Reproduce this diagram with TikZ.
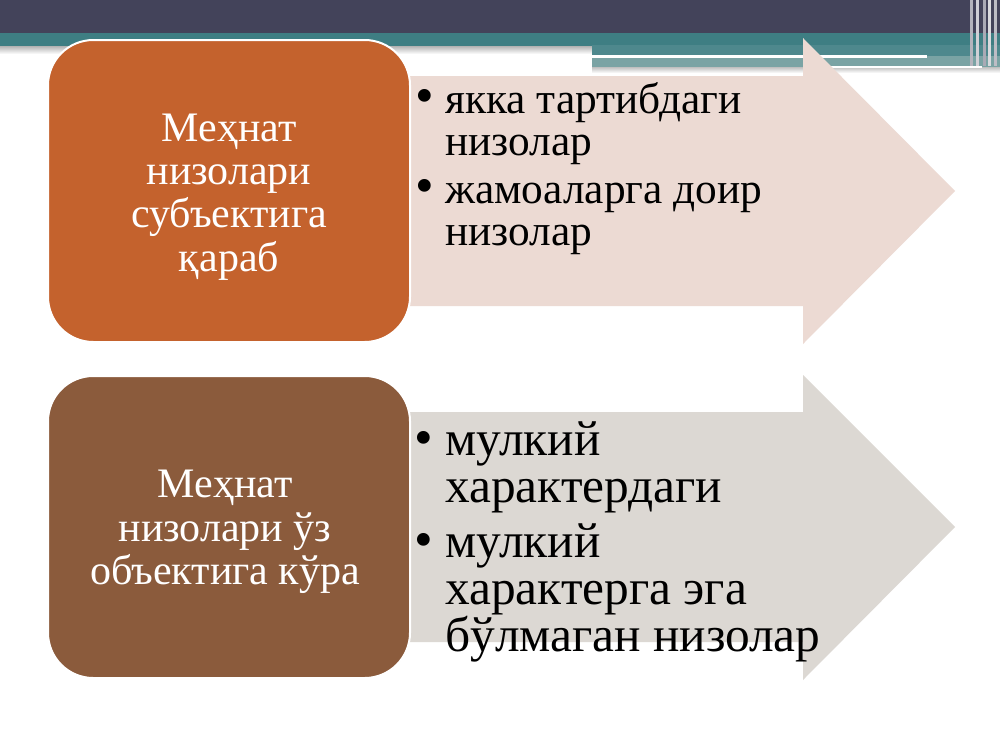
\documentclass[tikz,border=0pt]{standalone}
\usepackage{fontspec}
\setmainfont{Liberation Serif}
\definecolor{bandDark}{HTML}{43435A}
\definecolor{bandTeal}{HTML}{3E7E83}
\definecolor{tealLight}{HTML}{7AA3A4}
\definecolor{boxOrange}{HTML}{C4622D}
\definecolor{boxBrown}{HTML}{8B5B3C}
\definecolor{arrPink}{HTML}{ECDAD3}
\definecolor{arrGrey}{HTML}{DCD8D3}
\begin{document}
\begin{tikzpicture}[x=0.75pt,y=-0.75pt,
  catbox/.style={draw=white, line width=1.5pt, rounded corners=34pt,
    minimum width=271.5pt, minimum height=226.5pt, inner sep=0pt},
  boxtext/.style={text=white, align=center, inner sep=0pt,
    font=\fontsize{31.5}{32.5}\selectfont},
  bulA/.style={anchor=base west, inner sep=0pt, font=\fontsize{32.5}{31.5}\selectfont},
  bulB/.style={anchor=base west, inner sep=0pt, font=\fontsize{37}{35}\selectfont},
  dot/.style={anchor=base west, inner sep=0pt, font=\fontsize{40}{40}\selectfont}]
\useasboundingbox (0,0) rectangle (1000,750);
\fill[white] (0,0) rectangle (1000,750);
% header band
\fill[bandDark] (0,0) rectangle (1000,33);
\fill[bandTeal] (0,33) rectangle (1000,46);
\shade[top color=black!30, bottom color=white] (0,46) rectangle (592,54);
\fill[bandTeal!92!white] (592,45) rectangle (1000,56);
\fill[tealLight] (592,56) rectangle (1000,67);
\shade[top color=black!25, bottom color=white] (592,67) rectangle (1000,73);
\fill[white] (592,55) rectangle (927,57.5);
\fill[white] (827,65.5) rectangle (982,67.5);
\foreach \xx/\cc in {970/white!60!bandDark,976/white!75!bandDark,983/white!55!bandDark,988/white!80!bandDark,994/white!65!bandDark}
  \fill[\cc] (\xx,0) rectangle ++(2.5,66);
% arrows
\fill[arrPink] (408,76) -- (803,76) -- (803,38) -- (955,191) -- (803,344) -- (803,306) -- (408,306) -- cycle;
\fill[arrGrey] (408,412) -- (803,412) -- (803,375) -- (955,527) -- (803,680) -- (803,642) -- (408,642) -- cycle;
% boxes
\node[catbox, fill=boxOrange] (b1) at (229,191) {};
\node[catbox, fill=boxBrown] (b2) at (229,527) {};
\node[boxtext] (t1) at (229,197) {Меҳнат\\низолари\\субъектига\\қараб};
\node[boxtext] (t2) at (225,532) {Меҳнат\\низолари ўз\\объектига кўра};
% bullets top
\node[dot] (p1) at (415,113) {•};
\node[bulA] (a1) at (445,113) {якка тартибдаги};
\node[bulA] (a2) at (445,155) {низолар};
\node[dot] (p2) at (415,203) {•};
\node[bulA] (a3) at (445,203) {жамоаларга доир};
\node[bulA] (a4) at (445,245) {низолар};
% bullets bottom
\node[dot] (p3) at (414,455) {•};
\node[bulB] (c1) at (445,455) {мулкий};
\node[bulB] (c2) at (445,502) {характердаги};
\node[dot] (p4) at (414,557) {•};
\node[bulB] (c3) at (445,557) {мулкий};
\node[bulB] (c4) at (445,604) {характерга эга};
\node[bulB] (c5) at (445,651) {бўлмаган низолар};
\end{tikzpicture}
\end{document}
